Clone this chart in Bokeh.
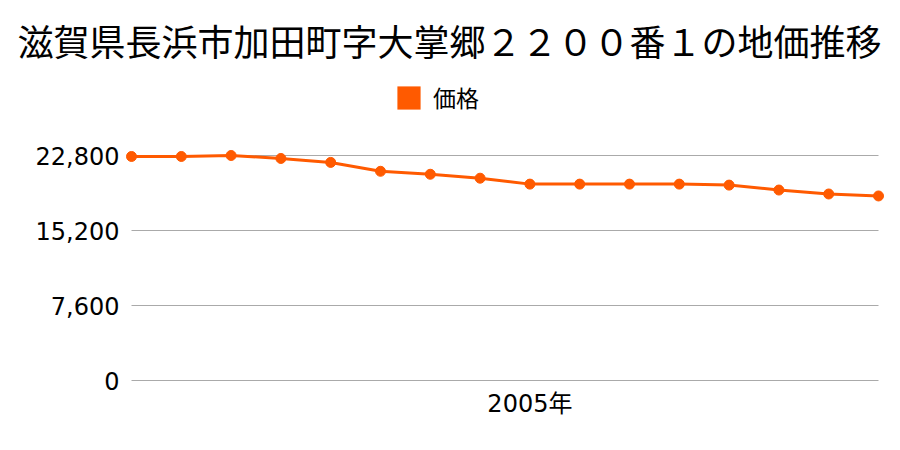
from bokeh.plotting import figure
from bokeh.models import Range1d, FixedTicker, NumeralTickFormatter, Legend, LegendItem, ColumnDataSource, Title
from bokeh.embed import file_html
from bokeh.resources import INLINE

title_text = "滋賀県長浜市加田町字大掌郷２２００番１の地価推移"
series_name = "価格"
years = list(range(1997, 2013))
prices = [22700, 22700, 22800, 22500, 22100, 21200, 20900, 20500,
          19900, 19900, 19900, 19900, 19800, 19300, 18900, 18700]
y_ticks = [0, 7600, 15200, 22800]
x_ticks = [2005]
x_tick_labels = {2005: "2005年"}

color = "#ff5a00"

# pixel layout of the reference (canvas coords)
X0, X1 = 131, 878          # first / last data point
Y_TOP, Y_ZERO = 155, 380   # top tick / zero line
FRAME_L, FRAME_R, FRAME_T, FRAME_B = 125, 886, 66, 385

ux = (years[-1] - years[0]) / (X1 - X0)     # data units per px
uy = y_ticks[-1] / (Y_ZERO - Y_TOP)

def dx(px):
    return years[0] + (px - X0) * ux

def dy(py):
    return (Y_ZERO - py) * uy

p = figure(width=900, height=450, output_backend="svg", toolbar_location=None,
           x_range=Range1d(dx(FRAME_L), dx(FRAME_R)),
           y_range=Range1d(dy(FRAME_B), dy(FRAME_T)),
           min_border_left=FRAME_L, min_border_right=900 - FRAME_R,
           min_border_top=FRAME_T, min_border_bottom=450 - FRAME_B)
p.outline_line_color = None
p.background_fill_color = "white"
p.border_fill_color = "white"

# grid lines spanning the data's x extent
p.segment(x0=[years[0]] * len(y_ticks), x1=[years[-1]] * len(y_ticks), y0=y_ticks, y1=y_ticks,
          line_color="#aaaaaa", line_width=1)

src = ColumnDataSource(dict(x=years, y=prices))
p.line("x", "y", source=src, line_color=color, line_width=3)
p.scatter("x", "y", source=src, size=10, fill_color=color, line_color=color)

# zero-area quad, used only for the legend swatch
dummy = p.quad(left=[years[0]], right=[years[0]], top=[0], bottom=[0],
               fill_color=color, line_color=None)

# axes
p.yaxis.ticker = FixedTicker(ticks=y_ticks)
p.yaxis.formatter = NumeralTickFormatter(format="0,0")
p.yaxis.axis_line_color = None
p.yaxis.major_tick_line_color = None
p.yaxis.minor_tick_line_color = None
p.yaxis.major_label_text_font_size = "24px"
p.yaxis.major_label_text_font = "DejaVu Sans"
p.yaxis.major_label_text_color = "black"
p.yaxis.major_label_standoff = 0

p.xaxis.ticker = FixedTicker(ticks=x_ticks)
p.xaxis.major_label_overrides = x_tick_labels
p.xaxis.axis_line_color = None
p.xaxis.major_tick_line_color = None
p.xaxis.minor_tick_line_color = None
p.xaxis.major_label_text_font_size = "24px"
p.xaxis.major_label_text_font = "DejaVu Sans, Noto Sans CJK JP"
p.xaxis.major_label_text_color = "black"
p.xaxis.major_label_standoff = -2

p.xgrid.grid_line_color = None
p.ygrid.grid_line_color = None

# title (in the panel above the frame, so it is not clipped)
p.title = Title(text=title_text, align="left", offset=17 - FRAME_L, vertical_align="middle",
                text_font_size="36px", text_font="Noto Sans CJK JP", text_color="black",
                text_font_style="normal", standoff=0)

legend = Legend(items=[LegendItem(label=series_name, renderers=[dummy])],
                location=(394 - FRAME_L, FRAME_B - 114), orientation="horizontal",
                border_line_color=None, background_fill_alpha=0,
                padding=0, margin=0, glyph_width=29, glyph_height=29,
                label_text_font_size="23px", label_text_font="Noto Sans CJK JP",
                label_text_color="black", label_standoff=10)
p.add_layout(legend, "center")

open("out.html", "w").write(file_html(p, INLINE))
